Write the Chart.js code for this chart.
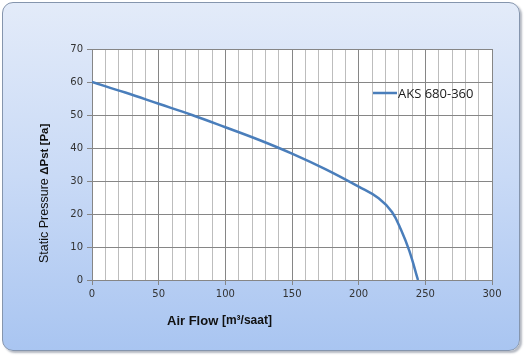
<!DOCTYPE html>
<html>
<head>
<meta charset="utf-8">
<script src="https://cdn.jsdelivr.net/npm/chart.js@4"></script>
<style>
  html, body { margin: 0; padding: 0; background: #ffffff; }
  #wrap { position: relative; width: 527px; height: 356px; }
  #frame {
    position: absolute; left: 2px; top: 2px; width: 516px; height: 347px;
    border: 1px solid #8595ad; border-radius: 11px;
    background: linear-gradient(to bottom, #e3ebf9 0%, #c9daf6 50%, #a9c5f1 100%);
    box-shadow: 2px 2px 2px rgba(90,100,120,0.45);
  }
  canvas { position: absolute; left: 0; top: 0; }
</style>
</head>
<body>
<div id="wrap">
  <div id="frame"></div>
  <canvas id="c" width="527" height="356"></canvas>
</div>
<script>
// Data
const airFlow = [0, 25, 50, 75, 100, 125, 150, 175, 200, 215, 225, 232, 238, 244.5];
const pressure = [60, 56.8, 53.4, 50, 46.3, 42.5, 38.3, 33.6, 28.3, 24.8, 20.6, 15, 8.8, 0];
const seriesLabel = 'AKS 680-360';
const xMin = 0, xMax = 300, xStep = 10, xLabelEvery = 50;
const yMin = 0, yMax = 70, yStep = 10;

const points = airFlow.map((x, i) => ({ x: x, y: pressure[i] }));

const plotBg = {
  id: 'plotBg',
  beforeDraw(chart) {
    const { ctx, chartArea: a } = chart;
    ctx.save();
    ctx.fillStyle = '#ffffff';
    ctx.fillRect(a.left, a.top, a.right - a.left, a.bottom - a.top);
    ctx.restore();
  }
};

const extras = {
  id: 'extras',
  afterDraw(chart) {
    const { ctx, chartArea: a } = chart;
    ctx.save();
    // right border of plot
    ctx.strokeStyle = '#868686';
    ctx.lineWidth = 1;
    ctx.beginPath();
    ctx.moveTo(Math.round(a.right) + 0.5, a.top);
    ctx.lineTo(Math.round(a.right) + 0.5, a.bottom);
    ctx.stroke();

    // legend
    const ds = chart.data.datasets[0];
    const ly = 93;
    ctx.strokeStyle = ds.borderColor;
    ctx.lineWidth = 2.5;
    ctx.beginPath();
    ctx.moveTo(373, ly);
    ctx.lineTo(397, ly);
    ctx.stroke();
    ctx.fillStyle = '#1a1a1a';
    ctx.font = '13px "Open Sans", "Liberation Sans", sans-serif';
    ctx.textBaseline = 'middle';
    ctx.textAlign = 'left';
    ctx.fillText(ds.label, 398, ly + 1);

    // x axis title
    ctx.fillStyle = '#111111';
    ctx.textBaseline = 'middle';
    ctx.font = 'bold 13px "Liberation Sans", Arial, sans-serif';
    const t1 = 'Air Flow ';
    ctx.fillText(t1, 167, 321);
    const w1 = ctx.measureText(t1).width;
    ctx.font = 'bold 12px "Liberation Sans", Arial, sans-serif';
    ctx.fillText('[m³/saat]', 167 + w1, 321);

    // y axis title (rotated)
    ctx.translate(45, 263);
    ctx.rotate(-Math.PI / 2);
    ctx.font = '12.5px "Liberation Sans", Arial, sans-serif';
    const s1 = 'Static Pressure ';
    ctx.fillText(s1, 0, 0);
    const sw = ctx.measureText(s1).width;
    ctx.font = 'bold 11.5px "Liberation Sans", Arial, sans-serif';
    ctx.fillText('ΔPst [Pa]', sw, 0);
    ctx.restore();
  }
};

new Chart(document.getElementById('c'), {
  type: 'line',
  data: {
    datasets: [{
      label: seriesLabel,
      data: points,
      borderColor: '#4a7ebb',
      borderWidth: 2.5,
      pointRadius: 0,
      fill: false,
      tension: 0.4
    }]
  },
  options: {
    responsive: false,
    animation: false,
    devicePixelRatio: 1,
    layout: { padding: { left: 0, top: 49, right: 35, bottom: 0 } },
    plugins: { legend: { display: false }, tooltip: { enabled: false } },
    scales: {
      x: {
        type: 'linear',
        min: xMin, max: xMax,
        afterFit(scale) { scale.height = 76; },
        border: { display: true, color: '#868686', width: 1 },
        grid: {
          color: (c) => (c.tick && c.tick.value % xLabelEvery === 0) ? '#868686' : '#bdbdbd',
          tickColor: (c) => (c.tick && c.tick.value % xLabelEvery === 0) ? '#868686' : 'rgba(0,0,0,0)',
          tickLength: 5,
          lineWidth: 1
        },
        ticks: {
          stepSize: xStep,
          autoSkip: false,
          maxRotation: 0,
          padding: 3,
          color: '#333333',
          font: { family: '"DejaVu Sans", Verdana, sans-serif', size: 10 },
          callback: (v) => (v % xLabelEvery === 0 ? String(v) : '')
        }
      },
      y: {
        type: 'linear',
        min: yMin, max: yMax,
        afterFit(scale) { scale.width = 92; },
        border: { display: true, color: '#868686', width: 1 },
        grid: { color: '#868686', tickColor: '#868686', tickLength: 5, lineWidth: 1 },
        ticks: {
          stepSize: yStep,
          padding: 4,
          color: '#333333',
          font: { family: '"DejaVu Sans", Verdana, sans-serif', size: 10 }
        }
      }
    }
  },
  plugins: [plotBg, extras]
});
</script>
</body>
</html>
